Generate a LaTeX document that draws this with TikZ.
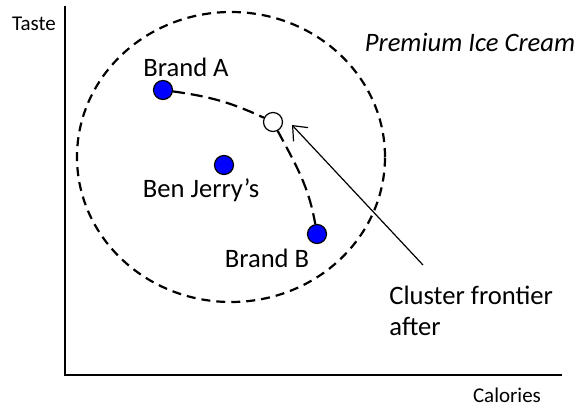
\documentclass[tikz,border=0pt]{standalone}
\usepackage{fontspec}
\setmainfont{Carlito}
\usetikzlibrary{arrows.meta,positioning}
\tikzset{
  brand/.style={circle, fill=blue, draw=black, line width=0.6pt, minimum size=9.5pt, inner sep=0pt},
  frontdot/.style={circle, fill=white, draw=black, line width=0.6pt, minimum size=9.5pt, inner sep=0pt},
  lab/.style={font=\fontsize{13.3}{15.5}\selectfont, inner sep=0pt},
  axlab/.style={font=\fontsize{10.5}{12}\selectfont, inner sep=0pt},
  dash line/.style={line width=1.1pt, dash pattern=on 4.5pt off 3pt}
}
\begin{document}
\begin{tikzpicture}[x=0.5pt,y=0.5pt]
  \useasboundingbox (0,0) rectangle (574,408);
  % axes
  \coordinate (ytop) at (65,402);
  \coordinate (orig) at (65,33);
  \coordinate (xend) at (562,33);
  \draw[line width=1pt] (ytop) -- (orig) -- (xend);
  \node[axlab] (taste) at (34,384) {Taste};
  \node[axlab] (cal) at (507,13) {Calories};
  % premium cluster
  \draw[dash line] (231,251) ellipse [x radius=77pt, y radius=72.5pt];
  \node[lab, font=\fontsize{13.3}{15.5}\selectfont\itshape] (premium) at (470,366) {Premium Ice Cream};
  % brands
  \node[brand] (brandA) at (163,318) {};
  \node[brand] (benj) at (224,243) {};
  \node[brand] (brandB) at (317,174) {};
  \node[frontdot] (front) at (273,286) {};
  \node[lab] (labA) at (186,341) {Brand A};
  \node[lab] (labBJ) at (201,218) {Ben Jerry’s};
  \node[lab] (labB) at (267,150) {Brand B};
  % frontier
  \draw[dash line, dash pattern=on 6pt off 3pt] (brandA) to[out=-8,in=155] (front);
  \draw[dash line, dash pattern=on 6pt off 3pt] (front) to[out=-62,in=100] (brandB);
  \node[lab, align=left, anchor=west] (clus) at (389,97) {Cluster frontier\\after};
  \coordinate (foot) at (423,143);
  \coordinate (tip) at (292,283);
  \draw[line width=0.6pt, -{Straight Barb[length=6pt,width=10pt]}] (foot) -- (tip);
\end{tikzpicture}
\end{document}
